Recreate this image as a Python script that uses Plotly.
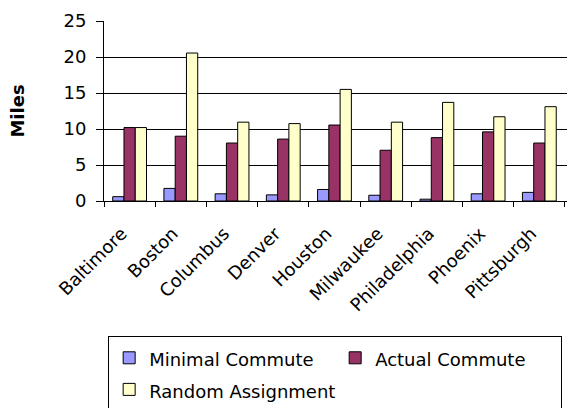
import plotly.graph_objects as go

cities = ["Baltimore", "Boston", "Columbus", "Denver", "Houston",
          "Milwaukee", "Philadelphia", "Phoenix", "Pittsburgh"]
minimal_commute = [0.6, 1.75, 1.0, 0.85, 1.6, 0.8, 0.25, 1.0, 1.2]
actual_commute = [10.2, 9.0, 8.05, 8.6, 10.55, 7.05, 8.8, 9.6, 8.05]
random_assignment = [10.2, 20.55, 10.95, 10.75, 15.5, 10.95, 13.7, 11.7, 13.1]

series = [
    ("Minimal Commute", minimal_commute, "#9999FF"),
    ("Actual Commute", actual_commute, "#993366"),
    ("Random Assignment", random_assignment, "#FFFFCC"),
]

FONT = "DejaVu Sans, Verdana, sans-serif"

fig = go.Figure()
for name, vals, color in series:
    fig.add_trace(go.Bar(
        x=cities, y=vals,
        # legend rows use the larger legend font for spacing; text itself stays 18px
        name=f'<span style="font-size:18px">{name}</span>',
        marker=dict(color=color, line=dict(color="black", width=1)),
    ))

fig.update_layout(
    width=567, height=408,
    margin=dict(l=104, r=0, t=21, b=207, autoexpand=False),
    paper_bgcolor="white", plot_bgcolor="white",
    font=dict(family=FONT, size=18, color="black"),
    barmode="group", bargap=0.34, bargroupgap=0,
    showlegend=True,
    legend=dict(
        orientation="h", x=0.009, y=-0.75, xanchor="left", yanchor="top",
        bordercolor="black", borderwidth=1, bgcolor="white",
        entrywidth=181, entrywidthmode="pixels",
        font=dict(family=FONT, size=22, color="black"),
        itemclick=False,
    ),
)

fig.update_xaxes(
    type="category", range=[-0.5, 8.54],
    showline=True, linecolor="black", linewidth=1,
    ticks="outside", tickson="boundaries", ticklen=5, tickcolor="black",
    tickangle=-45, tickfont=dict(family=FONT, size=18),
    ticklabelstandoff=14, ticklabelshift=-8,
    showgrid=False,
)
fig.update_yaxes(
    range=[0, 25], tickvals=[0, 5, 10, 15, 20, 25],
    showline=True, linecolor="black", linewidth=1,
    ticks="outside", ticklen=7, tickcolor="black",
    showgrid=True, gridcolor="black", gridwidth=1,
    tickfont=dict(family=FONT, size=18), ticklabelstandoff=6,
    title=dict(text="<b>Miles</b>", font=dict(family=FONT, size=18), standoff=34),
    zeroline=False,
)

fig.write_html("out.html")
